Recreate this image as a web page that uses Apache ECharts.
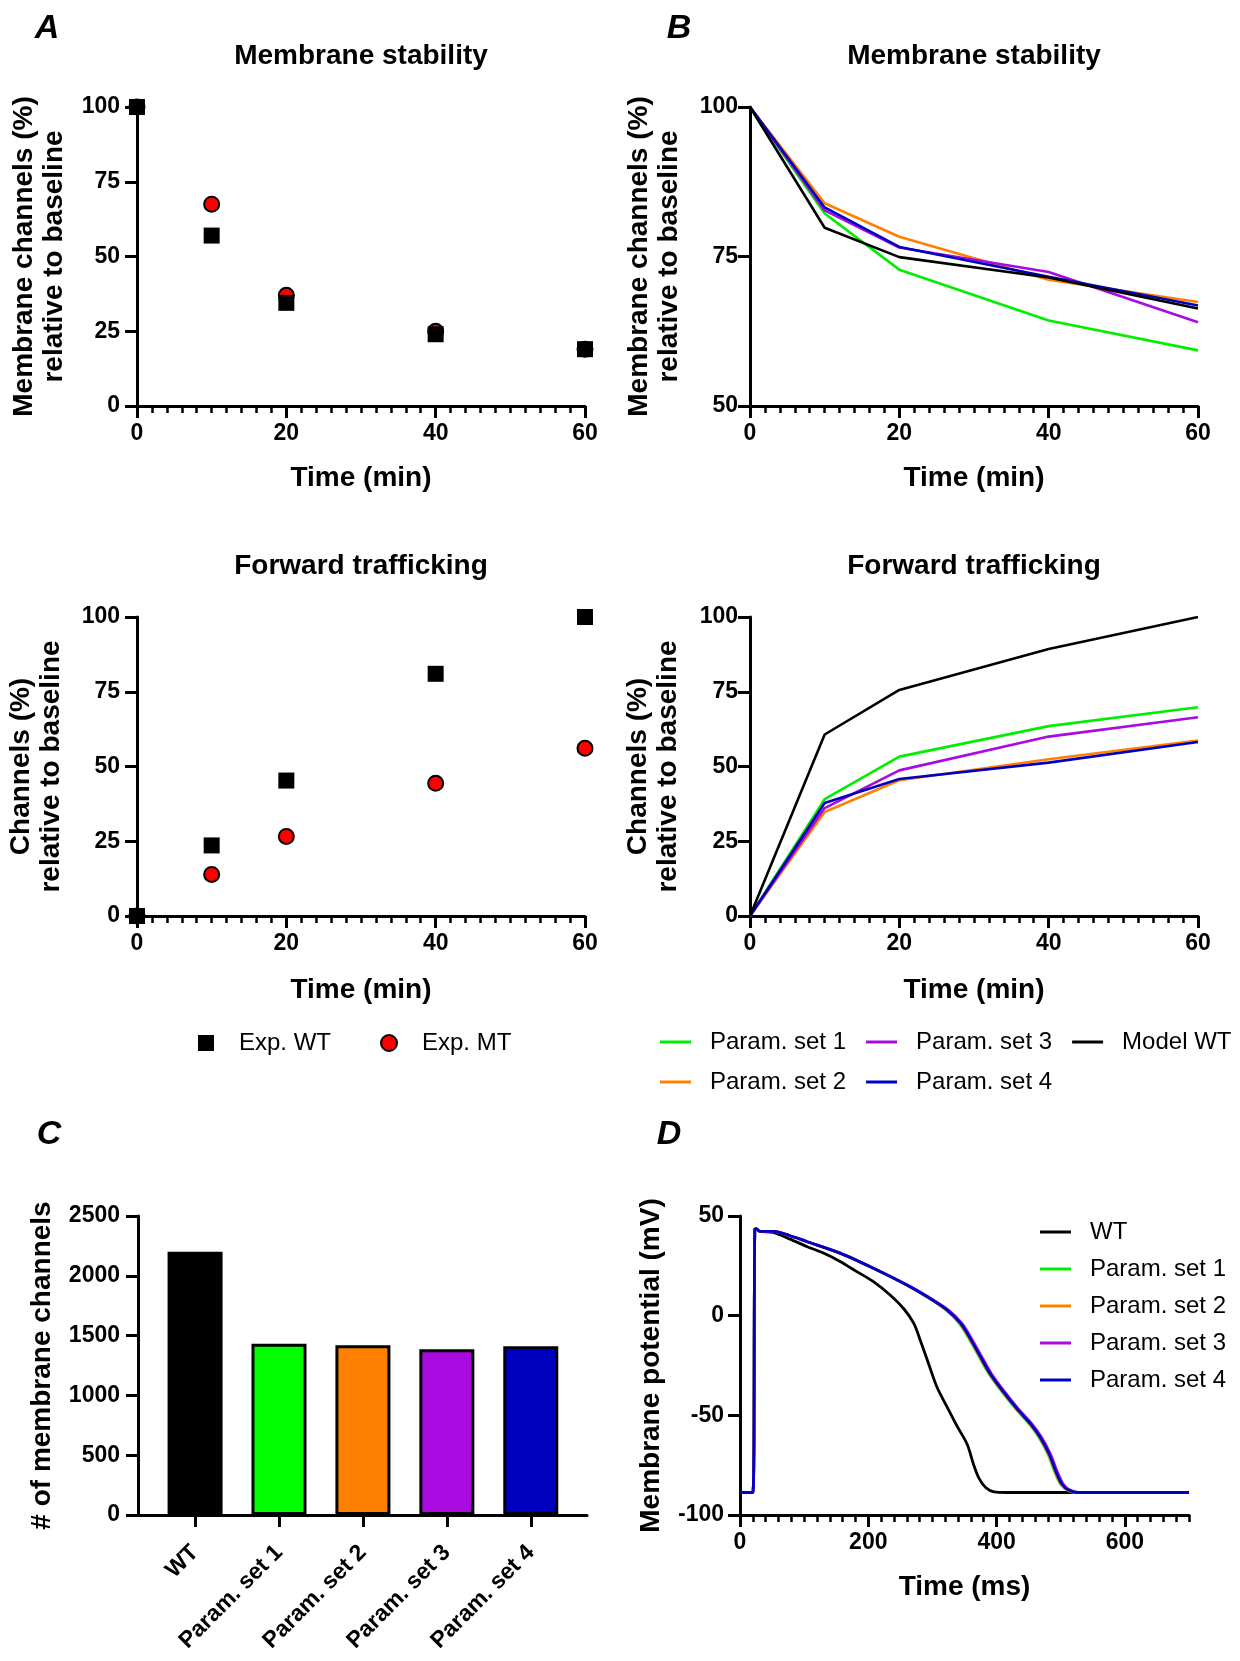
<!DOCTYPE html>
<html><head><meta charset="utf-8">
<script src="https://cdn.jsdelivr.net/npm/echarts@6/dist/echarts.min.js"></script>
<style>html,body{margin:0;padding:0;background:#fff}#c{width:1240px;height:1661px}</style>
</head><body><div id="c"></div>
<script>
// ---------------- DATA ----------------
const timePoints = [0, 10, 20, 40, 60];
const stabilityExpWT = [100, 57, 34.5, 24, 19];
const stabilityExpMT = [100, 67.5, 37, 25, 19];
const traffickingExpWT = [0, 23.6, 45.3, 81, 100];
const traffickingExpMT = [0, 13.9, 26.6, 44.4, 56.1];

const stabilitySet1 = [100, 82.2, 72.8, 64.3, 59.3];
const stabilitySet2 = [100, 83.9, 78.3, 71.1, 67.4];
const stabilitySet3 = [100, 82.7, 76.5, 72.4, 64.0];
const stabilitySet4 = [100, 83.2, 76.6, 71.6, 66.8];
const stabilityModelWT = [100, 79.8, 74.9, 71.5, 66.3];

const traffickingSet1 = [0, 39.1, 53.3, 63.5, 69.8];
const traffickingSet2 = [0, 34.8, 45.4, 52.4, 58.7];
const traffickingSet3 = [0, 36.1, 48.7, 60.0, 66.5];
const traffickingSet4 = [0, 37.8, 45.8, 51.3, 58.2];
const traffickingModelWT = [0, 60.7, 75.6, 89.3, 100];

const barCategories = ['WT', 'Param. set 1', 'Param. set 2', 'Param. set 3', 'Param. set 4'];
const barValues = [2201, 1431, 1419, 1386, 1410];

const apTimeWT = [0, 20, 23, 25, 31, 52, 78, 104, 130, 156, 182, 208, 234, 255, 271, 281, 294, 307, 323, 338, 354, 364, 372, 383, 396, 416, 700];
const apVoltWT = [-88.7, -88.7, 43, 43.6, 42.3, 41.8, 38.4, 34.7, 31.4, 27.2, 22.1, 17.1, 10.4, 3.6, -3.9, -12.3, -24.1, -35.8, -45.9, -55.2, -64.4, -74.5, -81.2, -86.2, -88.4, -88.7, -88.7];

const apVoltSets = [-88.7, -88.7, 43, 43.6, 42.3, 42.3, 40.1, 37.2, 31.4, 23.8, 15.4, 9.5, 2.8, -3.9, -11.5, -20.7, -29.1, -38.4, -46.8, -54.3, -61, -69.4, -77.8, -84.6, -87.6, -88.7, -88.7];
const apTimeSet1 = [0, 20, 23, 25, 31, 52, 78, 104, 156, 208, 260, 291, 322, 342, 357, 373, 388, 409, 430, 451, 466, 480, 490, 500, 511, 524, 700];
const apTimeSet2 = [0, 20, 23, 25, 31, 52, 78, 104, 156, 208, 260, 292, 322, 343, 358, 374, 389, 410, 431, 452, 467, 481, 491, 501, 512, 525, 700];
const apTimeSet3 = [0, 20, 23, 25, 31, 52, 78, 104, 156, 208, 261, 293, 325, 346, 361, 377, 392, 413, 434, 455, 470, 484, 494, 504, 515, 528, 700];
const apTimeSet4 = [0, 20, 23, 25, 31, 52, 78, 104, 156, 208, 260, 292, 323, 344, 359, 375, 390, 411, 432, 453, 468, 482, 492, 502, 513, 526, 700];

// ---------------- STYLE ----------------
const F = '"Liberation Sans", Arial, Helvetica, sans-serif';
const C_WT = '#000000', C1 = '#00ee00', C2 = '#ff8000', C3 = '#a80ae0', C4 = '#0000c0';
const BAR_COLORS = [C_WT, '#00ff00', '#ff8000', '#a90ae0', '#0000c0'];

function merge(a, b) {
  const out = Array.isArray(a) ? a.slice() : Object.assign({}, a);
  for (const k in b) {
    if (b[k] && typeof b[k] === 'object' && !Array.isArray(b[k]) && a[k] && typeof a[k] === 'object') out[k] = merge(a[k], b[k]);
    else out[k] = b[k];
  }
  return out;
}
const baseAxis = {
  type: 'value', splitLine: { show: false },
  axisLine: { show: true, onZero: false, lineStyle: { color: '#000', width: 3 } },
  axisTick: { show: true, length: 12, lineStyle: { color: '#000', width: 3 } },
  axisLabel: { color: '#000', fontFamily: F, fontWeight: 'bold', fontSize: 23, formatter: v => String(v) },
  nameLocation: 'middle',
  nameTextStyle: { color: '#000', fontFamily: F, fontWeight: 'bold', fontSize: 28, lineHeight: 30 }
};
const minor = { show: true, splitNumber: 10, length: 7, lineStyle: { color: '#000', width: 2.5 } };
function xTime(grid, gap) {
  return merge(baseAxis, { gridIndex: grid, min: 0, max: 60, interval: 20, minorTick: minor,
    axisLabel: { margin: 16 }, name: 'Time (min)', nameGap: gap });
}
function yAx(grid, min, max, interval, name, gap, margin) {
  return merge(baseAxis, { gridIndex: grid, min: min, max: max, interval: interval,
    axisLabel: { margin: margin }, name: name, nameGap: gap });
}
const pts = (xs, ys) => xs.map((x, i) => [x, ys[i]]);
function lineS(name, color, xi, xs, ys, extra) {
  return Object.assign({ name: name, type: 'line', xAxisIndex: xi, yAxisIndex: xi, data: pts(xs, ys),
    symbol: 'none', color: color, lineStyle: { color: color, width: 2.6 }, z: 3 }, extra || {});
}
const stabName = 'Membrane channels (%)\nrelative to baseline';
const trafName = 'Channels (%)\nrelative to baseline';

const grids = [
  { left: 137, top: 107, width: 448, height: 299 },
  { left: 750, top: 107, width: 448, height: 299 },
  { left: 137, top: 617, width: 448, height: 299 },
  { left: 750, top: 617, width: 448, height: 299 },
  { left: 138, top: 1216, width: 449, height: 299 },
  { left: 740, top: 1216, width: 449, height: 299 }
];

const xAxes = [
  xTime(0, 57), xTime(1, 57), xTime(2, 59), xTime(3, 59),
  merge(baseAxis, { gridIndex: 4, min: 0.32, max: 5.67,
    axisTick: { customValues: [1, 2, 3, 4, 5] },
    axisLabel: { customValues: [1, 2, 3, 4, 5], rotate: 45, margin: 34,
      formatter: v => barCategories[Math.round(v) - 1] || '' } }),
  merge(baseAxis, { gridIndex: 5, min: 0, max: 700,
    axisTick: { customValues: [0, 200, 400, 600] },
    axisLabel: { customValues: [0, 200, 400, 600], margin: 16 },
    name: 'Time (ms)', nameGap: 57 }),
  merge(baseAxis, { gridIndex: 5, min: 0, max: 700, interval: 20, position: 'bottom',
    axisLine: { show: false }, axisLabel: { show: false },
    axisTick: { length: 7, lineStyle: { width: 2.5 } } })
];
const yAxes = [
  yAx(0, 0, 100, 25, stabName, 68, 17),
  yAx(1, 50, 100, 25, stabName, 66, 12),
  yAx(2, 0, 100, 25, trafName, 71, 17),
  yAx(3, 0, 100, 25, trafName, 67, 12),
  yAx(4, 0, 2500, 500, '# of membrane channels', 81, 18),
  yAx(5, -100, 50, 50, 'Membrane potential (mV)', 74, 16)
];

const mtStyle = { symbol: 'circle', symbolSize: 15, itemStyle: { color: '#ff0000', borderColor: '#000', borderWidth: 2, opacity: 1 } };
const wtStyle = { symbol: 'rect', symbolSize: 16, itemStyle: { color: '#000', opacity: 1 } };
function scat(name, xi, ys, st) {
  return Object.assign({ name: name, type: 'scatter', xAxisIndex: xi, yAxisIndex: xi, clip: false,
    data: pts(timePoints, ys) }, st);
}
const apSmooth = { smooth: 0.3 };

const series = [
  scat('Exp. MT', 0, stabilityExpMT, mtStyle),
  scat('Exp. WT', 0, stabilityExpWT, wtStyle),
  scat('Exp. MT', 2, traffickingExpMT, mtStyle),
  scat('Exp. WT', 2, traffickingExpWT, wtStyle),
  lineS('Param. set 1', C1, 1, timePoints, stabilitySet1),
  lineS('Param. set 2', C2, 1, timePoints, stabilitySet2),
  lineS('Param. set 3', C3, 1, timePoints, stabilitySet3),
  lineS('Param. set 4', C4, 1, timePoints, stabilitySet4),
  lineS('Model WT', C_WT, 1, timePoints, stabilityModelWT),
  lineS('Param. set 1', C1, 3, timePoints, traffickingSet1),
  lineS('Param. set 2', C2, 3, timePoints, traffickingSet2),
  lineS('Param. set 3', C3, 3, timePoints, traffickingSet3),
  lineS('Param. set 4', C4, 3, timePoints, traffickingSet4),
  lineS('Model WT', C_WT, 3, timePoints, traffickingModelWT),
  { name: 'membrane channels', type: 'bar', xAxisIndex: 4, yAxisIndex: 4, barWidth: 55,
    data: barValues.map((v, i) => ({ value: [i + 1, v], itemStyle: { color: BAR_COLORS[i] } })),
    itemStyle: { borderColor: '#000', borderWidth: 3 } },
  lineS('WT', C_WT, 5, apTimeWT, apVoltWT, apSmooth),
  lineS('Param. set 1', C1, 5, apTimeSet1, apVoltSets, apSmooth),
  lineS('Param. set 2', C2, 5, apTimeSet2, apVoltSets, apSmooth),
  lineS('Param. set 3', C3, 5, apTimeSet3, apVoltSets, apSmooth),
  lineS('Param. set 4', C4, 5, apTimeSet4, apVoltSets, apSmooth)
];
series.forEach(s => { if (s.type === 'line' && s.xAxisIndex === 5) { s.lineStyle = { color: s.color, width: 2.8 }; } });

const legText = { color: '#000', fontFamily: F, fontSize: 24, lineHeight: 24 };
const lineIcon = 'rect';
const legends = [
  { data: [{ name: 'Exp. WT', icon: 'rect' }, { name: 'Exp. MT', icon: 'circle' }],
    left: 198, top: 1031, itemWidth: 16, itemHeight: 16, itemGap: 49, padding: 0,
    selectedMode: false, textStyle: merge(legText, { padding: [0, 0, 0, 20] }) },
  { data: ['Param. set 1', 'Param. set 3', 'Model WT'].map(n => ({ name: n, icon: lineIcon })),
    left: 660, top: 1030, width: 700,
    itemWidth: 31, itemHeight: 3, itemGap: 20, padding: 0, selectedMode: false,
    textStyle: merge(legText, { padding: [0, 0, 0, 14], width: 136 }) },
  { data: ['Param. set 2', 'Param. set 4'].map(n => ({ name: n, icon: lineIcon })),
    left: 660, top: 1070, width: 700,
    itemWidth: 31, itemHeight: 3, itemGap: 20, padding: 0, selectedMode: false,
    textStyle: merge(legText, { padding: [0, 0, 0, 14], width: 136 }) },
  { data: ['WT', 'Param. set 1', 'Param. set 2', 'Param. set 3', 'Param. set 4'].map(n => ({ name: n, icon: lineIcon })),
    orient: 'vertical', left: 1040, top: 1220,
    itemWidth: 31, itemHeight: 3, itemGap: 13, padding: 0, selectedMode: false,
    textStyle: merge(legText, { padding: [0, 0, 0, 14] }) }
];

const titleStyle = { color: '#000', fontFamily: F, fontWeight: 'bold', fontSize: 28 };
const titles = [
  { text: 'Membrane stability', left: 361, top: 42 },
  { text: 'Membrane stability', left: 974, top: 42 },
  { text: 'Forward trafficking', left: 361, top: 552 },
  { text: 'Forward trafficking', left: 974, top: 552 }
].map(t => Object.assign(t, { textAlign: 'center', padding: 0, textStyle: titleStyle }));

const letter = (t, x, y) => ({ type: 'text', x: x, y: y,
  style: { text: t, font: 'italic bold 34px "Liberation Sans", Arial, sans-serif', fill: '#000',
    textAlign: 'center', textVerticalAlign: 'middle', verticalAlign: 'middle' } });

const chart = echarts.init(document.getElementById('c'), null, { renderer: 'canvas' });
chart.setOption({
  animation: false,
  backgroundColor: '#fff',
  title: titles,
  grid: grids,
  xAxis: xAxes,
  yAxis: yAxes,
  legend: legends,
  series: series,
  graphic: [letter('A', 47, 29), letter('B', 679, 29), letter('C', 49, 1135), letter('D', 669, 1135)]
});
</script></body></html>
